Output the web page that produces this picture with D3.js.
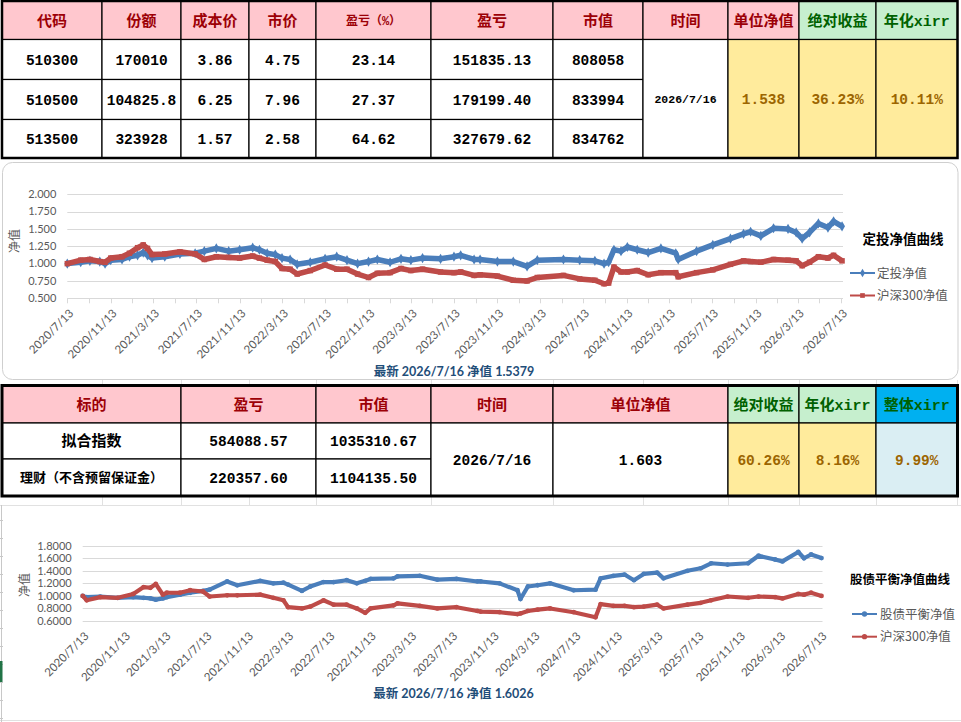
<!DOCTYPE html>
<html>
<head>
<meta charset="utf-8">
<script src="https://cdn.jsdelivr.net/npm/d3@7"></script>
<style>
body { margin: 0; background: #fff; }
svg { display: block; }
</style>
</head>
<body>
<svg id="sheet" width="961" height="722"></svg>
<script>
// ---- table data ----
var topHeaders = ['代码', '份额', '成本价', '市价', '盈亏（%）', '盈亏', '市值', '时间', '单位净值', '绝对收益', '年化xirr'];
var topRows = [
    ['510300', '170010', '3.86', '4.75', '23.14', '151835.13', '808058'],
    ['510500', '104825.8', '6.25', '7.96', '27.37', '179199.40', '833994'],
    ['513500', '323928', '1.57', '2.58', '64.62', '327679.62', '834762']
];
var topSummary = ['2026/7/16', '1.538', '36.23%', '10.11%'];

var bottomHeaders = ['标的', '盈亏', '市值', '时间', '单位净值', '绝对收益', '年化xirr', '整体xirr'];
var bottomRows = [
    ['拟合指数', '584088.57', '1035310.67'],
    ['理财（不含预留保证金）', '220357.60', '1104135.50']
];
var bottomSummary = ['2026/7/16', '1.603', '60.26%', '8.16%', '9.99%'];

// ---- chart 1: 定投净值 vs 沪深300 ----
var dates1 = ['2020-07-13', '2020-08-20', '2020-09-15', '2020-10-13', '2020-10-28', '2020-11-13', '2020-12-15',
    '2021-01-05', '2021-01-28', '2021-02-13', '2021-02-25', '2021-03-10', '2021-04-15', '2021-05-28', '2021-07-10',
    '2021-08-05', '2021-09-08', '2021-10-13', '2021-11-13', '2021-12-20', '2022-01-08', '2022-01-30', '2022-02-22',
    '2022-03-13', '2022-04-05', '2022-04-25', '2022-06-01', '2022-07-13', '2022-08-15', '2022-09-13', '2022-10-13',
    '2022-11-13', '2022-12-08', '2023-01-13', '2023-02-13', '2023-03-13', '2023-04-15', '2023-06-05', '2023-07-13',
    '2023-08-01', '2023-09-08', '2023-09-25', '2023-11-13', '2023-12-28', '2024-02-05', '2024-03-05', '2024-05-18',
    '2024-07-03', '2024-08-15', '2024-09-10', '2024-09-23', '2024-10-08', '2024-10-28', '2024-11-15', '2024-12-13',
    '2025-01-13', '2025-02-18', '2025-04-01', '2025-04-08', '2025-05-30', '2025-07-15', '2025-09-03', '2025-10-10',
    '2025-10-30', '2025-11-28', '2026-01-03', '2026-02-13', '2026-03-08', '2026-03-25', '2026-04-15', '2026-05-10',
    '2026-06-06', '2026-06-22', '2026-07-16'];
var dingtou = [1.00, 1.02, 1.04, 1.03, 1.00, 1.05, 1.06,
    1.10, 1.12, 1.16, 1.12, 1.08, 1.10, 1.14, 1.15,
    1.18, 1.22, 1.18, 1.20, 1.23, 1.20, 1.15, 1.13,
    1.08, 1.06, 0.99, 1.02, 1.07, 1.10, 1.05, 1.00,
    1.03, 1.06, 1.02, 1.07, 1.05, 1.08, 1.07, 1.10,
    1.12, 1.06, 1.06, 1.03, 1.03, 0.96, 1.05, 1.06,
    1.05, 1.04, 1.00, 1.02, 1.20, 1.18, 1.24, 1.20,
    1.16, 1.22, 1.15, 1.06, 1.18, 1.27, 1.36, 1.43,
    1.46, 1.40, 1.51, 1.50, 1.45, 1.36, 1.45, 1.58,
    1.52, 1.61, 1.5379];
var hs300a = [1.00, 1.05, 1.06, 1.03, 1.02, 1.08, 1.10,
    1.15, 1.23, 1.27, 1.22, 1.13, 1.14, 1.17, 1.14,
    1.06, 1.10, 1.09, 1.08, 1.11, 1.08, 1.05, 1.03,
    0.93, 0.92, 0.85, 0.90, 0.98, 0.92, 0.92, 0.85,
    0.80, 0.86, 0.87, 0.93, 0.90, 0.92, 0.88, 0.87,
    0.88, 0.83, 0.84, 0.82, 0.76, 0.75, 0.80, 0.83,
    0.78, 0.76, 0.71, 0.72, 0.95, 0.88, 0.88, 0.90,
    0.84, 0.87, 0.87, 0.81, 0.87, 0.91, 0.99, 1.04,
    1.03, 1.02, 1.06, 1.05, 1.04, 0.97, 1.02, 1.10,
    1.08, 1.12, 1.04];

// ---- chart 2: 股债平衡净值 vs 沪深300 ----
var dates2 = ['2020-07-13', '2020-07-25', '2020-09-03', '2020-10-25', '2020-12-10', '2021-01-10', '2021-01-30',
    '2021-02-15', '2021-03-08', '2021-03-20', '2021-04-28', '2021-05-28', '2021-07-05', '2021-07-25', '2021-09-15',
    '2021-10-15', '2021-12-22', '2022-01-30', '2022-03-01', '2022-03-15', '2022-04-25', '2022-05-20', '2022-06-28',
    '2022-07-28', '2022-09-05', '2022-10-05', '2022-10-30', '2022-11-15', '2023-01-22', '2023-02-03', '2023-04-10',
    '2023-06-01', '2023-07-28', '2023-09-28', '2023-10-08', '2023-12-03', '2024-01-25', '2024-02-03', '2024-02-25',
    '2024-03-25', '2024-05-01', '2024-07-10', '2024-09-13', '2024-09-28', '2024-11-05', '2024-12-08', '2025-01-05',
    '2025-02-03', '2025-03-15', '2025-04-03', '2025-06-13', '2025-07-22', '2025-08-22', '2025-10-10', '2025-12-10',
    '2026-01-10', '2026-02-28', '2026-03-22', '2026-05-08', '2026-05-25', '2026-06-15', '2026-07-16'];
var guzhai = [1.00, 0.98, 0.99, 0.97, 0.98, 0.97, 0.96,
    0.94, 0.96, 0.98, 1.02, 1.05, 1.08, 1.10, 1.23,
    1.17, 1.24, 1.20, 1.21, 1.18, 1.08, 1.15, 1.22,
    1.22, 1.25, 1.20, 1.24, 1.27, 1.28, 1.31, 1.32,
    1.26, 1.27, 1.23, 1.23, 1.20, 1.09, 0.95, 1.15,
    1.17, 1.20, 1.09, 1.10, 1.28, 1.32, 1.34, 1.25,
    1.35, 1.37, 1.28, 1.40, 1.44, 1.52, 1.50, 1.52,
    1.64, 1.58, 1.55, 1.70, 1.60, 1.66, 1.6026];
var hs300b = [1.00, 0.93, 0.98, 0.97, 1.03, 1.14, 1.13,
    1.19, 1.02, 1.05, 1.05, 1.09, 1.07, 0.99, 1.01,
    1.01, 1.02, 0.97, 0.93, 0.82, 0.80, 0.83, 0.93,
    0.86, 0.86, 0.80, 0.73, 0.80, 0.85, 0.88, 0.84,
    0.80, 0.82, 0.76, 0.75, 0.74, 0.71, 0.72, 0.76,
    0.78, 0.80, 0.74, 0.66, 0.87, 0.84, 0.84, 0.82,
    0.83, 0.86, 0.80, 0.86, 0.89, 0.93, 0.99, 0.97,
    0.99, 0.98, 0.96, 1.03, 1.02, 1.05, 1.00];

var xTickLabels = ['2020/7/13', '2020/11/13', '2021/3/13', '2021/7/13', '2021/11/13', '2022/3/13', '2022/7/13',
    '2022/11/13', '2023/3/13', '2023/7/13', '2023/11/13', '2024/3/13', '2024/7/13', '2024/11/13', '2025/3/13',
    '2025/7/13', '2025/11/13', '2026/3/13', '2026/7/13'];

var fontTable = '"Liberation Mono", "Noto Sans CJK SC", monospace';
var fontCJK = '"Noto Sans CJK SC", sans-serif';
var fontAxis = 'Lato, "Noto Sans CJK SC", sans-serif';

var PINK = '#ffc7ce', RED_TXT = '#9c0006';
var GREEN = '#c6efce', GREEN_TXT = '#006100';
var YELLOW = '#ffeb9c', BROWN_TXT = '#9c6500';
var BLUE_HDR = '#00b0f0', LIGHT_BLUE = '#daeef3';
var GRID = '#e1e1e1';

var svg = d3.select('#sheet');
var parseDate = d3.timeParse('%Y-%m-%d');
var parseTick = d3.timeParse('%Y/%m/%d');

// faint spreadsheet gridlines behind everything
var sheetCols = [102, 181, 249, 316, 431, 553, 643, 728, 799, 876, 957];
svg.append('g').selectAll('line').data(sheetCols).enter().append('line')
    .attr('x1', d => d + 0.5).attr('x2', d => d + 0.5)
    .attr('y1', 496).attr('y2', 505)
    .attr('stroke', GRID);
svg.append('g').selectAll('line').data(sheetCols).enter().append('line')
    .attr('x1', d => d + 0.5).attr('x2', d => d + 0.5)
    .attr('y1', 380).attr('y2', 385)
    .attr('stroke', GRID);
svg.append('line').attr('x1', 0).attr('x2', 961).attr('y1', 505.5).attr('y2', 505.5).attr('stroke', GRID);
svg.append('line').attr('x1', 0).attr('x2', 961).attr('y1', 720.5).attr('y2', 720.5).attr('stroke', GRID);
svg.append('line').attr('x1', 1.5).attr('x2', 1.5).attr('y1', 505).attr('y2', 722).attr('stroke', '#c8c8c8');
svg.append('g').selectAll('line').data(d3.range(520, 720, 18)).enter().append('line')
    .attr('x1', 0).attr('x2', 3).attr('y1', d => d + 0.5).attr('y2', d => d + 0.5).attr('stroke', '#c8c8c8');
svg.append('rect').attr('x', 0).attr('y', 661).attr('width', 2.5).attr('height', 21).attr('fill', '#217346');

// ---- tables ----
var drawTable = function(cols, rows, cells, outerWidth) {
    var g = svg.append('g');
    cells.forEach(function(c) {
        var x0 = cols[c.c0], x1 = cols[c.c1], y0 = rows[c.r0], y1 = rows[c.r1];
        g.append('rect')
            .attr('x', x0).attr('y', y0)
            .attr('width', x1 - x0).attr('height', y1 - y0)
            .attr('fill', c.fill)
            .attr('stroke', '#000').attr('stroke-width', 1.2);
        g.append('text')
            .attr('x', (x0 + x1) / 2)
            .attr('y', (y0 + y1) / 2)
            .attr('dy', '0.36em')
            .attr('text-anchor', 'middle')
            .attr('font-family', fontTable)
            .attr('font-weight', 'bold')
            .attr('font-size', c.size)
            .attr('fill', c.color)
            .text(c.text);
    });
    g.append('rect')
        .attr('x', cols[0]).attr('y', rows[0])
        .attr('width', cols[cols.length - 1] - cols[0])
        .attr('height', rows[rows.length - 1] - rows[0])
        .attr('fill', 'none')
        .attr('stroke', '#000').attr('stroke-width', outerWidth);
};

var topCols = [2, 102, 181, 249, 316, 431, 553, 643, 728, 799, 876, 957.5];
var topRowsY = [1, 39.5, 79.5, 119.5, 158];
var topCells = [];
topHeaders.forEach(function(h, i) {
    var green = i >= 9;
    topCells.push({c0: i, c1: i + 1, r0: 0, r1: 1, text: h,
        fill: green ? GREEN : PINK, color: green ? GREEN_TXT : RED_TXT,
        size: i === 4 ? 12 : 15});
});
topRows.forEach(function(row, r) {
    row.forEach(function(v, c) {
        topCells.push({c0: c, c1: c + 1, r0: r + 1, r1: r + 2, text: v, fill: '#fff', color: '#000', size: 14.5});
    });
});
topCells.push({c0: 7, c1: 8, r0: 1, r1: 4, text: topSummary[0], fill: '#fff', color: '#000', size: 11.5});
topCells.push({c0: 8, c1: 9, r0: 1, r1: 4, text: topSummary[1], fill: YELLOW, color: BROWN_TXT, size: 14.5});
topCells.push({c0: 9, c1: 10, r0: 1, r1: 4, text: topSummary[2], fill: YELLOW, color: BROWN_TXT, size: 14.5});
topCells.push({c0: 10, c1: 11, r0: 1, r1: 4, text: topSummary[3], fill: YELLOW, color: BROWN_TXT, size: 14.5});
drawTable(topCols, topRowsY, topCells, 2.5);

var botCols = [2, 181, 316, 431, 553, 728, 799, 876, 957.5];
var botRowsY = [385.5, 423, 459, 496];
var botCells = [];
bottomHeaders.forEach(function(h, i) {
    var fill = i < 5 ? PINK : (i < 7 ? GREEN : BLUE_HDR);
    botCells.push({c0: i, c1: i + 1, r0: 0, r1: 1, text: h, fill: fill,
        color: i < 5 ? RED_TXT : GREEN_TXT, size: 15});
});
bottomRows.forEach(function(row, r) {
    row.forEach(function(v, c) {
        var isName = c === 0;
        botCells.push({c0: c, c1: c + 1, r0: r + 1, r1: r + 2, text: v, fill: '#fff', color: '#000',
            size: isName ? (r === 1 ? 13 : 15) : 14.5});
    });
});
botCells.push({c0: 3, c1: 4, r0: 1, r1: 3, text: bottomSummary[0], fill: '#fff', color: '#000', size: 14.5});
botCells.push({c0: 4, c1: 5, r0: 1, r1: 3, text: bottomSummary[1], fill: '#fff', color: '#000', size: 14.5});
botCells.push({c0: 5, c1: 6, r0: 1, r1: 3, text: bottomSummary[2], fill: YELLOW, color: BROWN_TXT, size: 14.5});
botCells.push({c0: 6, c1: 7, r0: 1, r1: 3, text: bottomSummary[3], fill: YELLOW, color: BROWN_TXT, size: 14.5});
botCells.push({c0: 7, c1: 8, r0: 1, r1: 3, text: bottomSummary[4], fill: LIGHT_BLUE, color: BROWN_TXT, size: 14.5});
drawTable(botCols, botRowsY, botCells, 3);

// ---- charts ----
var drawChart = function(cfg) {
    var g = svg.append('g');
    if (cfg.frame) {
        g.append('rect')
            .attr('x', cfg.frame[0]).attr('y', cfg.frame[1])
            .attr('width', cfg.frame[2]).attr('height', cfg.frame[3])
            .attr('rx', 10).attr('ry', 10)
            .attr('fill', '#fff').attr('stroke', '#cfcfcf');
    } else {
        g.append('rect').attr('x', 3).attr('y', 506).attr('width', 958).attr('height', 214).attr('fill', '#fff');
    }

    var x = d3.scaleTime()
        .domain([parseTick(xTickLabels[0]), parseTick(xTickLabels[xTickLabels.length - 1])])
        .range([cfg.left, cfg.right]);
    var y = d3.scaleLinear().domain(cfg.yDomain).range([cfg.bottom, cfg.top]);

    var yTicks = d3.range(cfg.yDomain[0], cfg.yDomain[1] + cfg.yStep / 2, cfg.yStep);
    g.append('g').selectAll('line').data(yTicks).enter().append('line')
        .attr('x1', cfg.left).attr('x2', cfg.right + 2)
        .attr('y1', d => Math.round(y(d)) + 0.5).attr('y2', d => Math.round(y(d)) + 0.5)
        .attr('stroke', '#d9d9d9');
    g.append('g').selectAll('text').data(yTicks).enter().append('text')
        .attr('x', cfg.left - 11)
        .attr('y', d => y(d))
        .attr('dy', '0.35em')
        .attr('text-anchor', 'end')
        .attr('font-family', fontAxis)
        .attr('font-size', 11)
        .attr('fill', '#595959')
        .text(d3.format(cfg.yFormat));

    var majors = xTickLabels.map(parseTick);
    if (cfg.ticks) {
        var allTicks = [];
        majors.forEach(function(d, i) {
            allTicks.push(d);
            if (i < majors.length - 1) allTicks.push(d3.timeMonth.offset(d, 2));
        });
        g.append('g').selectAll('line').data(allTicks).enter().append('line')
            .attr('x1', d => Math.round(x(d)) + 0.5).attr('x2', d => Math.round(x(d)) + 0.5)
            .attr('y1', cfg.bottom).attr('y2', cfg.bottom + 5)
            .attr('stroke', '#d9d9d9');
    }
    g.append('g').selectAll('text').data(majors).enter().append('text')
        .attr('transform', (d, i) => 'translate(' + (x(d) + 4) + ',' + (cfg.bottom + 13) + ') rotate(-45)')
        .attr('dy', '0.35em')
        .attr('text-anchor', 'end')
        .attr('font-family', fontAxis)
        .attr('font-size', 11.5)
        .attr('fill', '#595959')
        .text((d, i) => xTickLabels[i]);

    g.append('text')
        .attr('transform', 'translate(' + cfg.yTitle[0] + ',' + cfg.yTitle[1] + ') rotate(-90)')
        .attr('dy', '0.35em')
        .attr('text-anchor', 'middle')
        .attr('font-family', fontCJK)
        .attr('font-size', 12)
        .attr('fill', '#595959')
        .text('净值');

    var line = d3.line().x(d => x(d.date)).y(d => y(d.value));
    cfg.series.forEach(function(s) {
        var pts = s.values.map((v, i) => ({date: parseDate(cfg.dates[i]), value: v}));
        g.append('path')
            .datum(pts)
            .attr('d', line)
            .attr('fill', 'none')
            .attr('stroke', s.color)
            .attr('stroke-width', cfg.lineWidth)
            .attr('stroke-linejoin', 'round');
        g.append('g').selectAll('path').data(pts).enter().append('path')
            .attr('transform', d => 'translate(' + x(d.date) + ',' + y(d.value) + ')')
            .attr('d', d3.symbol().type(s.symbol).size(cfg.markerSize))
            .attr('fill', s.color);
    });

    // legend
    g.append('text')
        .attr('x', cfg.legend.titleX).attr('y', cfg.legend.titleY)
        .attr('dy', '0.36em')
        .attr('text-anchor', 'middle')
        .attr('font-family', fontCJK)
        .attr('font-weight', 'bold')
        .attr('font-size', cfg.legend.titleSize)
        .attr('fill', '#000')
        .text(cfg.legend.title);
    var items = g.append('g').selectAll('g').data(cfg.series).enter().append('g')
        .attr('transform', (d, i) => 'translate(' + cfg.legend.x + ',' + (cfg.legend.y + i * cfg.legend.gap) + ')');
    items.append('line')
        .attr('x1', 0).attr('x2', 25).attr('y1', 0).attr('y2', 0)
        .attr('stroke', d => d.color).attr('stroke-width', 2);
    items.append('path')
        .attr('transform', 'translate(12.5,0)')
        .attr('d', d => d3.symbol().type(d.symbol).size(22)())
        .attr('fill', d => d.color);
    items.append('text')
        .attr('x', cfg.legend.textDx).attr('y', 0)
        .attr('dy', '0.36em')
        .attr('font-family', fontCJK)
        .attr('font-size', 12.5)
        .attr('fill', '#595959')
        .text(d => d.name);

    // latest value note
    g.append('text')
        .attr('x', cfg.note[0]).attr('y', cfg.note[1])
        .attr('dy', '0.36em')
        .attr('text-anchor', 'middle')
        .attr('font-family', fontAxis)
        .attr('font-weight', 'bold')
        .attr('font-size', 12.5)
        .attr('fill', '#1f4e79')
        .text(cfg.noteText);
};

drawChart({
    frame: [2.5, 162.5, 955.5, 217],
    left: 67.3, right: 841, top: 194.3, bottom: 298.3,
    yDomain: [0.5, 2.0], yStep: 0.25, yFormat: '.3f',
    ticks: true,
    yTitle: [15, 241],
    dates: dates1,
    lineWidth: 5.5, markerSize: 30,
    series: [
        {name: '定投净值', values: dingtou, color: '#4a7ebb', symbol: d3.symbolDiamond},
        {name: '沪深300净值', values: hs300a, color: '#be4b48', symbol: d3.symbolSquare}
    ],
    legend: {title: '定投净值曲线', titleX: 903, titleY: 239, titleSize: 13.5, x: 850, y: 273, gap: 22.5, textDx: 27},
    note: [454, 371],
    noteText: '最新 2026/7/16  净值 1.5379'
});

drawChart({
    frame: null,
    left: 82.7, right: 820.5, top: 545.7, bottom: 621,
    yDomain: [0.6, 1.8], yStep: 0.2, yFormat: '.4f',
    ticks: false,
    yTitle: [25, 585],
    dates: dates2,
    lineWidth: 4.2, markerSize: 18,
    series: [
        {name: '股债平衡净值', values: guzhai, color: '#4a7ebb', symbol: d3.symbolCircle},
        {name: '沪深300净值', values: hs300b, color: '#be4b48', symbol: d3.symbolCircle}
    ],
    legend: {title: '股债平衡净值曲线', titleX: 900, titleY: 579, titleSize: 12.5, x: 852, y: 614, gap: 22.7, textDx: 28},
    note: [453.5, 693],
    noteText: '最新 2026/7/16  净值 1.6026'
});
</script>
</body>
</html>
